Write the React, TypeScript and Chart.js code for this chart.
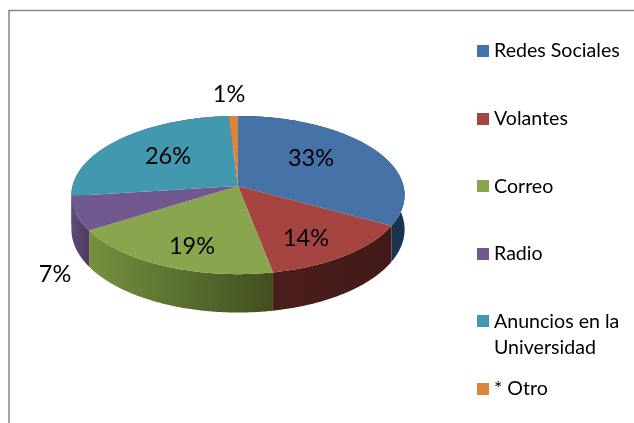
import React, { useEffect, useRef } from "react";
import { Chart, registerables } from "chart.js";

Chart.register(...registerables);

const categories: (string | string[])[] = ["Redes Sociales", "Volantes", "Correo", "Radio", ["Anuncios en la", "Universidad"], "* Otro"];
const shares = [33, 14, 19, 7, 26, 1];

const topColors = ["#4572a7", "#a64442", "#89a54e", "#71588f", "#4198af", "#db843d"];
const wallFrom = ["#17304e", "#4a1e1b", "#75913f", "#5f4a7c", "#5f4a7c", "#8a5020"];
const wallTo = ["#1a3350", "#431a18", "#414f20", "#4d3a60", "#5f4a7c", "#8a5020"];

const labelCenters = [[311, 158], [306, 238], [192, 246], [55, 274], [168, 156], [229, 94]];

const TILT = 0.472;
const PERSPECTIVE = 0.114;
const DEPTH = 34;
const LABEL_FONT = "23.5px Lato";
const LEGEND_FONT = "19.6px Lato";

function project(arc: any, angle: number, drop = 0) {
  const R = arc.outerRadius;
  const ux = Math.cos(angle);
  const uy = Math.sin(angle);
  const d = 1 - PERSPECTIVE * uy;
  return { x: arc.x + (R * ux) / d, y: arc.y + (R * TILT * uy + drop) / d };
}

function tracePath(ctx: CanvasRenderingContext2D, pts: { x: number; y: number }[]) {
  ctx.beginPath();
  pts.forEach((p, i) => (i ? ctx.lineTo(p.x, p.y) : ctx.moveTo(p.x, p.y)));
  ctx.closePath();
}

function samples(start: number, end: number) {
  const n = Math.max(2, Math.ceil((end - start) / 0.01));
  return Array.from({ length: n + 1 }, (_, i) => start + ((end - start) * i) / n);
}

const tiltedPie = {
  id: "tiltedPie",
  beforeDraw(chart: any) {
    const { ctx, width, height } = chart;
    ctx.save();
    ctx.fillStyle = "#ffffff";
    ctx.fillRect(0, 0, width, height);
    ctx.strokeStyle = "#868686";
    ctx.lineWidth = 1.5;
    ctx.beginPath();
    ctx.moveTo(9, height);
    ctx.lineTo(9, 10.5);
    ctx.lineTo(width, 10.5);
    ctx.stroke();
    ctx.restore();
  },
  beforeDatasetDraw(chart: any) {
    const { ctx } = chart;
    const arcs = chart.getDatasetMeta(0).data;
    ctx.save();
    arcs.forEach((arc: any, i: number) => {
      const angles = samples(arc.startAngle, arc.endAngle);
      const top = angles.map((a) => project(arc, a));
      const bottom = angles.map((a) => project(arc, a, DEPTH)).reverse();
      const xs = [top[0].x, top[top.length - 1].x];
      const g = ctx.createLinearGradient(Math.min(...xs), 0, Math.max(...xs), 0);
      g.addColorStop(0, wallFrom[i]);
      g.addColorStop(1, wallTo[i]);
      ctx.fillStyle = g;
      tracePath(ctx, [...top, ...bottom]);
      ctx.fill();
    });
    arcs.forEach((arc: any, i: number) => {
      const angles = samples(arc.startAngle, arc.endAngle);
      ctx.fillStyle = topColors[i];
      tracePath(ctx, [{ x: arc.x, y: arc.y }, ...angles.map((a) => project(arc, a))]);
      ctx.fill();
    });
    ctx.restore();
    return false;
  },
  afterDraw(chart: any) {
    const { ctx } = chart;
    const values = chart.data.datasets[0].data as number[];
    ctx.save();
    ctx.fillStyle = "#000000";
    ctx.font = LABEL_FONT;
    ctx.textAlign = "center";
    ctx.textBaseline = "middle";
    values.forEach((v, i) => ctx.fillText(`${v}%`, labelCenters[i][0], labelCenters[i][1]));

    ctx.font = LEGEND_FONT;
    ctx.textAlign = "left";
    (chart.data.labels as (string | string[])[]).forEach((label, i) => {
      const y = 51 + 67.6 * i;
      ctx.fillStyle = topColors[i];
      ctx.fillRect(477, Math.round(y) - 6, 12, 12);
      ctx.fillStyle = "#000000";
      (Array.isArray(label) ? label : [label]).forEach((line, j) => ctx.fillText(line, 494, y + j * 26));
    });
    ctx.restore();
  },
};

export default function App() {
  const ref = useRef<HTMLCanvasElement>(null);
  useEffect(() => {
    const chart = new Chart(ref.current as HTMLCanvasElement, {
      type: "pie",
      data: {
        labels: categories as any,
        datasets: [{ data: shares, backgroundColor: topColors, borderWidth: 0 }],
      },
      options: {
        animation: false,
        responsive: false,
        events: [],
        layout: { padding: { left: 72.5, right: 230.5, top: 20.5, bottom: 71.5 } },
        plugins: { legend: { display: false }, tooltip: { enabled: false } },
      },
      plugins: [tiltedPie as any],
    });
    return () => chart.destroy();
  }, []);
  return (
    <div style={{ position: "absolute", left: 0, top: 0, width: 634, height: 423 }}>
      <canvas ref={ref} width={634} height={423} style={{ display: "block" }} />
    </div>
  );
}
